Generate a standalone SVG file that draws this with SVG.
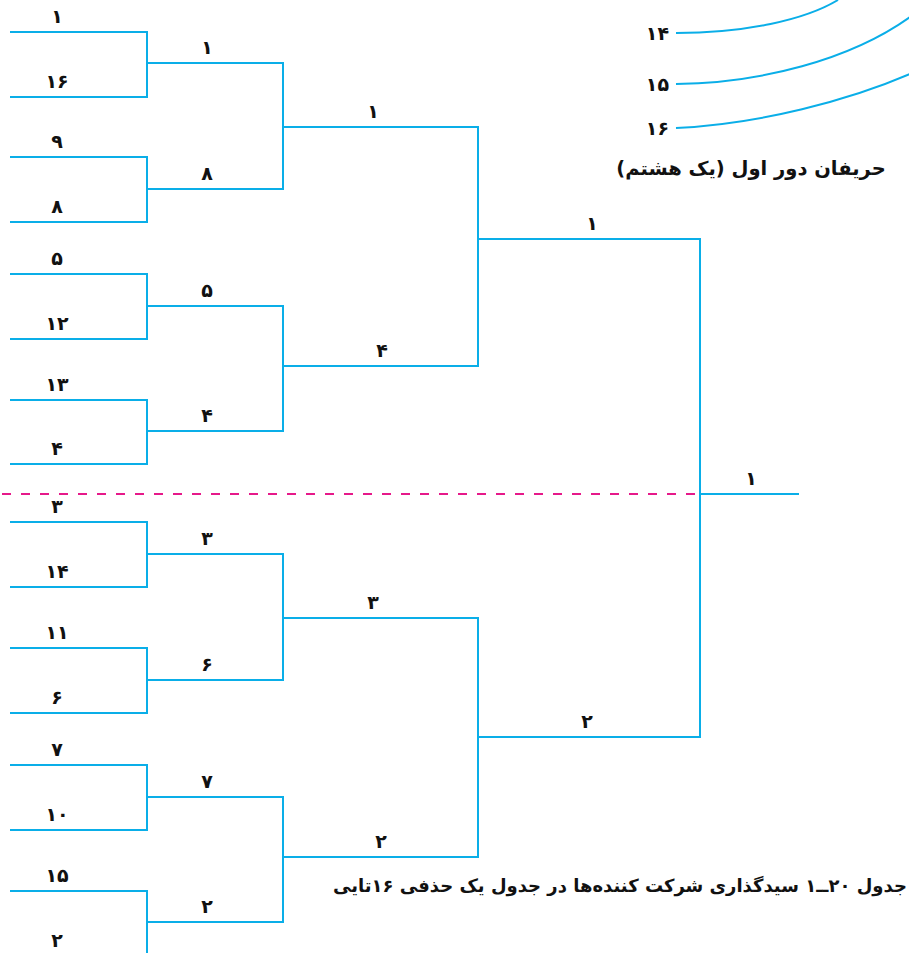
<svg xmlns="http://www.w3.org/2000/svg" width="909" height="953" viewBox="0 0 909 953">
<style>
.ln{fill:none;stroke:#0aaee8;stroke-width:2;stroke-linejoin:miter}
.cv{fill:none;stroke:#0aaee8;stroke-width:2}
.dash{fill:none;stroke:#e6198a;stroke-width:2;stroke-dasharray:9 10}
.n{font-family:"DejaVu Sans",sans-serif;font-weight:bold;font-size:19px;fill:#111;text-anchor:middle}
.s{font-family:"DejaVu Sans",sans-serif;font-weight:bold;font-size:19px;fill:#111;text-anchor:end}
.cap{font-family:"DejaVu Sans",sans-serif;font-weight:bold;fill:#111;text-anchor:middle}
</style>
<rect width="909" height="953" fill="#fff"/>
<g id="connectors">
<path class="dash" d="M2,494 H700"/>
<path class="ln" d="M10,32 H147 V97 H10"/>
<path class="ln" d="M10,157 H147 V222 H10"/>
<path class="ln" d="M10,274 H147 V339 H10"/>
<path class="ln" d="M10,400 H147 V464 H10"/>
<path class="ln" d="M10,522 H147 V587 H10"/>
<path class="ln" d="M10,648 H147 V713 H10"/>
<path class="ln" d="M10,765 H147 V830 H10"/>
<path class="ln" d="M10,891 H147 V956 H10"/>
<path class="ln" d="M147,63 H283 V189 H147"/>
<path class="ln" d="M147,306 H283 V431 H147"/>
<path class="ln" d="M147,554 H283 V680 H147"/>
<path class="ln" d="M147,797 H283 V922 H147"/>
<path class="ln" d="M283,127 H478 V366 H283"/>
<path class="ln" d="M283,618 H478 V857 H283"/>
<path class="ln" d="M478,239 H700 V737 H478"/>
<path class="ln" d="M700,494 H799"/>
<path class="cv" d="M676,33 C745,33 805,20 838,0"/>
<path class="cv" d="M676,84 C760,83 850,60 910,17"/>
<path class="cv" d="M676,128 C760,124 850,100 910,74"/>
</g>
<g id="r1-1"><text class="n" x="57" y="23">۱</text></g>
<g id="r1-16"><text class="n" x="57" y="88">۱۶</text></g>
<g id="r1-9"><text class="n" x="57" y="148">۹</text></g>
<g id="r1-8"><text class="n" x="57" y="213">۸</text></g>
<g id="r1-5"><text class="n" x="57" y="265">۵</text></g>
<g id="r1-12"><text class="n" x="57" y="330">۱۲</text></g>
<g id="r1-13"><text class="n" x="57" y="391">۱۳</text></g>
<g id="r1-4"><text class="n" x="57" y="455">۴</text></g>
<g id="r1-3"><text class="n" x="57" y="513">۳</text></g>
<g id="r1-14"><text class="n" x="57" y="578">۱۴</text></g>
<g id="r1-11"><text class="n" x="57" y="639">۱۱</text></g>
<g id="r1-6"><text class="n" x="57" y="704">۶</text></g>
<g id="r1-7"><text class="n" x="57" y="756">۷</text></g>
<g id="r1-10"><text class="n" x="57" y="821">۱۰</text></g>
<g id="r1-15"><text class="n" x="57" y="882">۱۵</text></g>
<g id="r1-2"><text class="n" x="57" y="947">۲</text></g>
<g id="r2-1"><text class="n" x="207" y="54">۱</text></g>
<g id="r2-8"><text class="n" x="207" y="180">۸</text></g>
<g id="r2-5"><text class="n" x="207" y="297">۵</text></g>
<g id="r2-4"><text class="n" x="207" y="422">۴</text></g>
<g id="r2-3"><text class="n" x="207" y="545">۳</text></g>
<g id="r2-6"><text class="n" x="207" y="671">۶</text></g>
<g id="r2-7"><text class="n" x="207" y="788">۷</text></g>
<g id="r2-2"><text class="n" x="207" y="913">۲</text></g>
<g id="r3-1"><text class="n" x="373" y="118">۱</text></g>
<g id="r3-4"><text class="n" x="382" y="357">۴</text></g>
<g id="r3-3"><text class="n" x="373" y="609">۳</text></g>
<g id="r3-2"><text class="n" x="381" y="848">۲</text></g>
<g id="r4-1"><text class="n" x="592" y="230">۱</text></g>
<g id="r4-2"><text class="n" x="587" y="728">۲</text></g>
<g id="final-1"><text class="n" x="751" y="485">۱</text></g>
<g id="seed-14"><text class="s" x="669" y="40">۱۴</text></g>
<g id="seed-15"><text class="s" x="669" y="91">۱۵</text></g>
<g id="seed-16"><text class="s" x="669" y="135">۱۶</text></g>
<g id="caption-top"><text class="cap" x="751" y="175" font-size="19.5" direction="rtl">حریفان دور اول (یک هشتم)</text></g>
<g id="caption-bottom"><text class="cap" x="620" y="892" font-size="18" direction="rtl">جدول ۲۰ــ۱ سیدگذاری شرکت کننده‌ها در جدول یک حذفی ۱۶تایی</text></g>
</svg>
